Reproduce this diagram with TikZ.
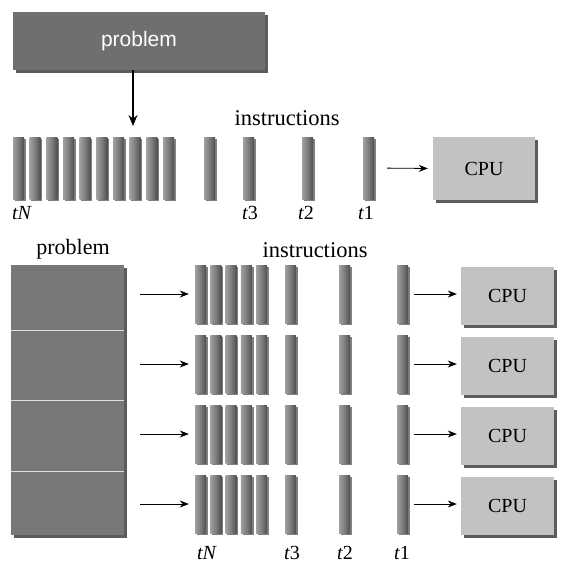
\documentclass[tikz,border=0pt]{standalone}
\usepackage{fontspec}
\setmainfont{Liberation Serif}
\newfontfamily\labelsans{Liberation Sans}
\usetikzlibrary{arrows.meta,shadows}
\definecolor{probfill}{HTML}{6E6F71}
\definecolor{bigfill}{HTML}{77787A}
\definecolor{cpufill}{HTML}{C2C2C4}
\definecolor{barmid}{HTML}{7C7C7E}
\definecolor{barlight}{HTML}{A0A0A2}
\definecolor{bardark}{HTML}{4E4E50}
\tikzset{
  x=1pt,y=-1pt,
  boxshadow/.style={drop shadow={shadow xshift=2.5pt,shadow yshift=-2.5pt,fill=black!75,opacity=.85}},
  probbox/.style={rectangle,draw=none,fill=probfill,boxshadow,minimum width=252pt,minimum height=58pt,inner sep=0pt},
  bigbox/.style={rectangle,draw=none,fill=bigfill,boxshadow,minimum width=113pt,minimum height=270pt,inner sep=0pt},
  cpubox/.style={rectangle,draw=none,fill=cpufill,boxshadow,inner sep=0pt,font=\fontsize{20}{24}\selectfont},
  instrbar/.style={rectangle,draw=none,left color=barlight,right color=bardark,middle color=barmid,
     drop shadow={shadow xshift=1.6pt,shadow yshift=-1.8pt,fill=black!70,opacity=.7},
     minimum width=11pt,inner sep=0pt},
  lbl/.style={inner sep=0pt,font=\fontsize{20}{24}\selectfont},
  head/.style={inner sep=0pt,font=\fontsize{22.5}{26}\selectfont},
  divider/.style={white!75!gray,line width=1pt},
  arr/.style={-{Stealth[length=9pt,width=7pt]},line width=0.8pt},
  bigarr/.style={-{Stealth[length=11pt,width=9pt]},line width=1.3pt},
}
\begin{document}
\begin{tikzpicture}
\useasboundingbox (0,0) rectangle (570,566);
% ---------- top: one CPU ----------
\node[probbox] (prob) at (139,41) {\labelsans\fontsize{21}{25}\selectfont\color{white}problem};
\coordinate (probtip) at (133,126);
\draw[bigarr] (prob.south -| probtip) -- (probtip);
\node[head] (instrtop) at (287,118) {instructions};
\foreach \i in {0,...,9}{
  \node[instrbar,minimum height=62pt] (tb\i) at ({18.5+16.67*\i},168) {};
}
\node[instrbar,minimum height=62pt] (tbx) at (209.5,168) {};
\node[instrbar,minimum height=62pt] (tb3) at (248.5,168) {};
\node[instrbar,minimum height=62pt] (tb2) at (307.5,168) {};
\node[instrbar,minimum height=62pt] (tb1) at (368.5,168) {};
\node[cpubox,minimum width=102pt,minimum height=63pt] (cputop) at (484,168.5) {CPU};
\draw[arr,shorten <=13pt,shorten >=5pt] (tb1.east) -- (cputop.west);
\node[lbl] (ltN) at (22,213) {\textit{tN}};
\node[lbl] (lt3) at (250,213) {\textit{t}3};
\node[lbl] (lt2) at (306,213) {\textit{t}2};
\node[lbl] (lt1) at (366,213) {\textit{t}1};
% ---------- bottom: four CPUs ----------
\node[head,font=\fontsize{22}{26}\selectfont] (probbot) at (73,249) {problem};
\node[head] (instrbot) at (315,250) {instructions};
\node[bigbox] (bigprob) at (67.5,400) {};
\coordinate (d1) at (0,330);
\coordinate (d2) at (0,400);
\coordinate (d3) at (0,471);
\foreach \d in {d1,d2,d3}{
  \draw[divider] (bigprob.west |- \d) -- (bigprob.east |- \d);
}
\foreach \r/\yb/\yc in {1/294/296,2/364/366,3/434/436,4/504/506}{
  \foreach \i in {0,...,4}{
    \node[instrbar,minimum height=58pt] (r\r b\i) at ({200.5+15.3*\i},\yb) {};
  }
  \node[instrbar,minimum height=58pt] (r\r t3) at (290.5,\yb) {};
  \node[instrbar,minimum height=58pt] (r\r t2) at (344.5,\yb) {};
  \node[instrbar,minimum height=58pt] (r\r t1) at (402.5,\yb) {};
  \node[cpubox,minimum width=93pt,minimum height=58pt] (cpu\r) at (507.5,\yc) {CPU};
  \draw[arr,shorten <=16pt,shorten >=6pt] (bigprob.east |- r\r b0.west) -- (r\r b0.west);
  \draw[arr,shorten <=6pt,shorten >=4pt] (r\r t1.east) -- (cpu\r.west |- r\r t1.east);
}
\node[lbl] (btN) at (207,553) {\textit{tN}};
\node[lbl] (bt3) at (292,553) {\textit{t}3};
\node[lbl] (bt2) at (345,553) {\textit{t}2};
\node[lbl] (bt1) at (402,553) {\textit{t}1};
\end{tikzpicture}
\end{document}
